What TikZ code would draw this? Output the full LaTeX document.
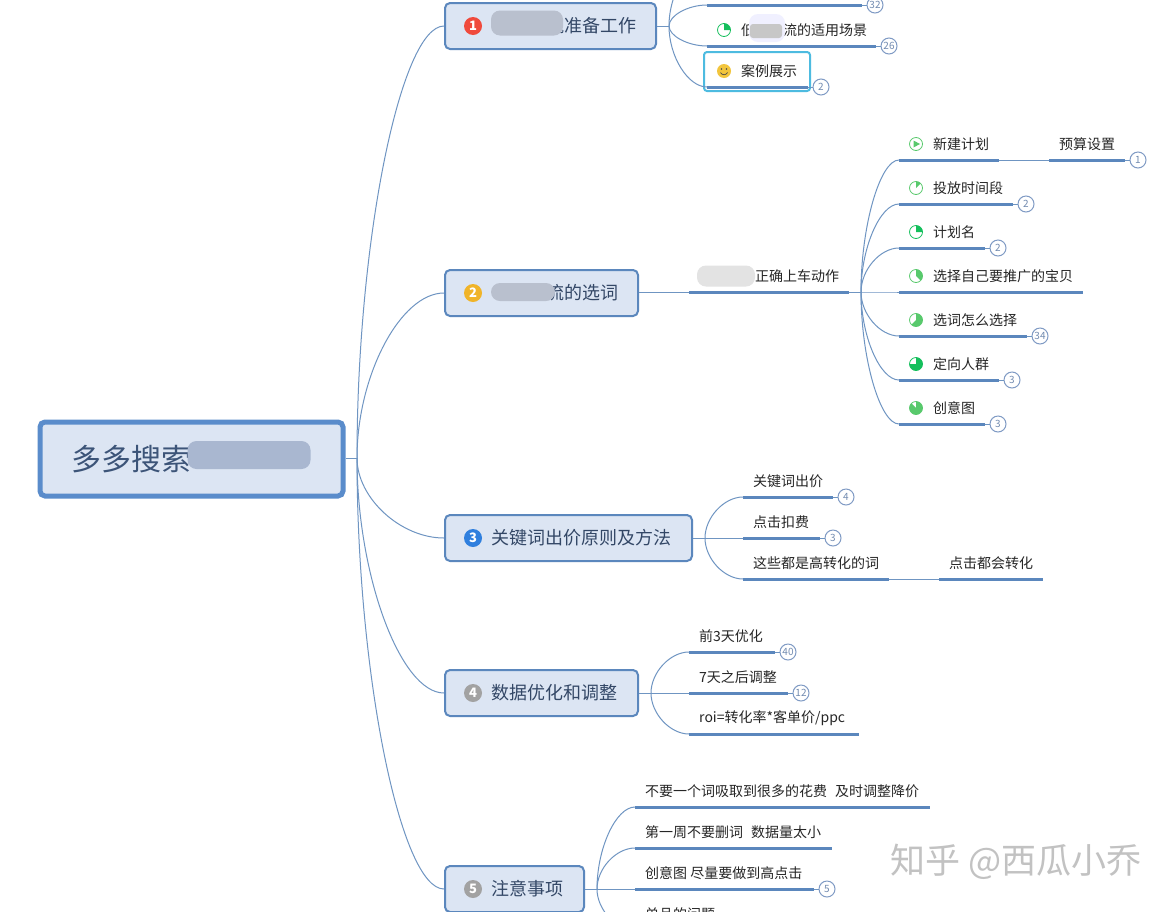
\documentclass[tikz,border=0pt]{standalone}
\usepackage{fontspec}
\setmainfont{Noto Sans CJK SC}
\usetikzlibrary{calc, positioning}
\definecolor{lineBlue}{HTML}{5B87BD}
\definecolor{rootBlue}{HTML}{5A8CCB}
\definecolor{thinBlue}{HTML}{6F95C2}
\definecolor{boxFill}{HTML}{DCE5F3}
\definecolor{inkBlue}{HTML}{3C5478}
\definecolor{badgeLine}{HTML}{7F9AC4}
\definecolor{pieGreen}{HTML}{14BF5C}
\definecolor{pieLight}{HTML}{58C96C}
\definecolor{iconRed}{HTML}{F04A3C}
\definecolor{iconYellow}{HTML}{F0B429}
\definecolor{iconBlue}{HTML}{2F7FDE}
\definecolor{iconGrey}{HTML}{A2A2A2}
\definecolor{smileYellow}{HTML}{F2C53D}
\definecolor{pickCyan}{HTML}{4DBBE0}
\definecolor{blurBlue}{HTML}{A9B7D0}
\definecolor{blurGrey}{HTML}{B9C0CE}
\tikzset{
    rootBox/.style={draw=rootBlue, line width=5pt, fill=boxFill, rounded corners=5pt, minimum width=303pt, minimum height=74pt, inner sep=0pt, font=\fontsize{30}{30}\selectfont, text=inkBlue},
    topicBox/.style={draw=lineBlue, line width=2pt, fill=boxFill, rounded corners=5pt, minimum height=46pt, inner sep=0pt},
    topicIcon/.style={circle, minimum size=18pt, inner sep=0pt, text=white, font=\fontsize{13}{13}\selectfont\bfseries},
    topicText/.style={anchor=west, inner sep=0pt, text=inkBlue!85!black, font=\fontsize{18}{18}\selectfont},
    leafText/.style={anchor=west, inner sep=0pt, text=black!85, font=\fontsize{14}{14}\selectfont},
    leafLine/.style={draw=lineBlue, line width=3pt},
    branchLine/.style={draw=thinBlue, line width=1pt},
    countBadge/.style={circle, draw=badgeLine, fill=white, line width=1pt, minimum size=16pt, inner sep=0pt, text=badgeLine!90!black, font=\fontsize{10}{10}\selectfont},
    blurPatch/.style={rounded corners=9pt, inner sep=0pt},
    pickBox/.style={draw=pickCyan, line width=2pt, rounded corners=3pt, fill=white, inner sep=0pt},
}
\newcommand{\drawTopic}[7]{
    \node[topicBox, minimum width={(#3-#2)*1pt}] (#1) at ({(#2+#3)/2},#4) {};
    \node[topicIcon, fill=#5] (#1i) at (473,#4) {#6};
    \node[topicText] (#1t) at (491,#4) {#7};
}
\newcommand{\drawLeaf}[6]{
    \coordinate (#1a) at (#2,#4);
    \coordinate (#1b) at (#3,#4);
    \node[leafText] (#1) at (#5,#4-16) {#6};
    \draw[leafLine] (#1a) -- (#1b);
}
\newcommand{\drawBranch}[2]{
    \draw[branchLine] (#1) .. controls ($(#1)!0.5!(#1 |- #2)$) and ($(#2)!0.5!(#1 |- #2)$) .. (#2);
}
\newcommand{\drawCount}[2]{
    \node[countBadge] (#1c) at ($(#1b)+(13,0)$) {#2};
    \draw[branchLine] (#1b) -- (#1c);
}
\newcommand{\drawPie}[4]{
    \coordinate (#1) at (916,#2);
    \draw[#4, line width=0.8pt] (#1) circle (6.5);
    \fill[#4] (#1) -- ++(-90:6.5) arc (-90:{-90+360*#3}:6.5) -- cycle;
}

\begin{document}
\begin{tikzpicture}[x=1pt, y=-1pt]

    \clip (0,0) rectangle (1172,911);
    \fill[white] (0,0) rectangle (1172,911);

    % root and forks
    \node[rootBox, align=left] (root) at (191.5,459) {多多搜索\hspace{120pt}};
    \coordinate (f0) at (357,458);
    \coordinate (f1) at (669,26);
    \coordinate (f2) at (861,292);
    \coordinate (f3) at (705,538);
    \coordinate (f4) at (651,693);
    \coordinate (f5) at (597,889);

    \drawTopic{t1}{445}{656}{26}{iconRed}{1}{\hspace{55pt}流准备工作}
    \drawTopic{t2}{445}{638}{293}{iconYellow}{2}{\hspace{55pt}流的选词}
    \drawTopic{t3}{445}{692}{538}{iconBlue}{3}{关键词出价原则及方法}
    \drawTopic{t4}{445}{638}{693}{iconGrey}{4}{数据优化和调整}
    \drawTopic{t5}{445}{584}{889}{iconGrey}{5}{注意事项}

    \draw[branchLine] (root.east |- f0) -- (f0);
    \drawBranch{f0}{t1.west}
    \drawBranch{f0}{t2.west}
    \drawBranch{f0}{t3.west}
    \drawBranch{f0}{t4.west}
    \drawBranch{f0}{t5.west}

    % first group
    \draw[branchLine] (t1.east) -- (f1);
    \coordinate (topEnd) at (712,-42);
    \drawBranch{f1}{topEnd}
    \node[pickBox, minimum width=106pt, minimum height=39pt] (pick) at (757,71.5) {};
    \drawLeaf{a1}{707}{862}{5}{741}{}
    \drawLeaf{a2}{707}{876}{46}{741}{低\hspace{28pt}流的适用场景}
    \drawLeaf{a3}{707}{808}{87}{741}{案例展示}
    \drawCount{a1}{32}
    \drawCount{a2}{26}
    \drawCount{a3}{2}
    \drawBranch{f1}{a1a}
    \drawBranch{f1}{a2a}
    \drawBranch{f1}{a3a}
    \draw[pieGreen, line width=0.8pt] (724,30) circle (6.5);
    \fill[pieGreen] (724,30) -- ++(-90:6.5) arc (-90:0:6.5) -- cycle;
    \fill[smileYellow] (724,71) circle (7);
    \fill[black!70] (721.5,69) circle (0.9) (726.5,69) circle (0.9);
    \draw[black!70, line width=0.7pt] (720.5,72.5) .. controls (722,75.5) and (726,75.5) .. (727.5,72.5);

    % second group
    \coordinate (b0a) at (689,292);
    \coordinate (b0b) at (849,292);
    \node[leafText] (b0) at (755,276) {正确上车动作};
    \draw[branchLine] (t2.east |- b0a) -- (b0a);
    \draw[leafLine] (b0a) -- (b0b);
    \draw[branchLine] (b0b) -- (f2);
    \drawLeaf{b1}{899}{999}{160}{933}{新建计划}
    \drawLeaf{b8}{1049}{1125}{160}{1059}{预算设置}
    \drawLeaf{b2}{899}{1013}{204}{933}{投放时间段}
    \drawLeaf{b3}{899}{985}{248}{933}{计划名}
    \drawLeaf{b4}{899}{1083}{292}{933}{选择自己要推广的宝贝}
    \drawLeaf{b5}{899}{1027}{336}{933}{选词怎么选择}
    \drawLeaf{b6}{899}{999}{380}{933}{定向人群}
    \drawLeaf{b7}{899}{985}{424}{933}{创意图}
    \draw[branchLine] (b1b) -- (b8a);
    \drawCount{b8}{1}
    \drawCount{b2}{2}
    \drawCount{b3}{2}
    \drawCount{b5}{34}
    \drawCount{b6}{3}
    \drawCount{b7}{3}
    \foreach \leaf in {b1a,b2a,b3a,b4a,b5a,b6a,b7a}
        \drawBranch{f2}{\leaf};
    \draw[pieLight, line width=0.8pt] (916,144) circle (6.5);
    \fill[pieLight] (913.5,140.5) -- (920,144) -- (913.5,147.5) -- cycle;
    \drawPie{p2}{188}{0.125}{pieLight}
    \drawPie{p3}{232}{0.25}{pieGreen}
    \drawPie{p4}{276}{0.375}{pieLight}
    \drawPie{p5}{320}{0.625}{pieLight}
    \drawPie{p6}{364}{0.75}{pieGreen}
    \drawPie{p7}{408}{0.875}{pieLight}

    % third group
    \draw[branchLine] (t3.east) -- (f3);
    \drawLeaf{c1}{743}{833}{497}{753}{关键词出价}
    \drawLeaf{c2}{743}{820}{538}{753}{点击扣费}
    \drawLeaf{c3}{743}{889}{579}{753}{这些都是高转化的词}
    \drawLeaf{c4}{939}{1043}{579}{949}{点击都会转化}
    \draw[branchLine] (c3b) -- (c4a);
    \drawCount{c1}{4}
    \drawCount{c2}{3}
    \foreach \leaf in {c1a,c2a,c3a}
        \drawBranch{f3}{\leaf};

    % fourth group
    \draw[branchLine] (t4.east) -- (f4);
    \drawLeaf{d1}{689}{775}{652}{699}{前3天优化}
    \drawLeaf{d2}{689}{788}{693}{699}{7天之后调整}
    \drawLeaf{d3}{689}{859}{734}{699}{roi=转化率*客单价/ppc}
    \drawCount{d1}{40}
    \drawCount{d2}{12}
    \foreach \leaf in {d1a,d2a,d3a}
        \drawBranch{f4}{\leaf};

    % fifth group
    \draw[branchLine] (t5.east) -- (f5);
    \drawLeaf{e1}{635}{930}{807}{645}{不要一个词吸取到很多的花费\hspace{8pt}及时调整降价}
    \drawLeaf{e2}{635}{832}{848}{645}{第一周不要删词\hspace{8pt}数据量太小}
    \drawLeaf{e3}{635}{814}{889}{645}{创意图 尽量要做到高点击}
    \drawLeaf{e4}{635}{720}{930}{645}{单品的问题}
    \drawCount{e3}{5}
    \foreach \leaf in {e1a,e2a,e3a,e4a}
        \drawBranch{f5}{\leaf};

    % blurred parts
    \node[blurPatch, fill=blurBlue, minimum width=123pt, minimum height=28pt] (blurRoot) at (249,455) {};
    \node[blurPatch, fill=blurGrey, minimum width=72pt, minimum height=25pt] (blurOne) at (527,23) {};
    \node[blurPatch, fill=blurGrey, minimum width=64pt, minimum height=18pt] (blurTwo) at (523,292) {};
    \node[blurPatch, fill=black!11, minimum width=58pt, minimum height=21pt] (blurLeaf) at (726,276) {};
    \node[blurPatch, fill=blue!6, minimum width=36pt, minimum height=28pt] (blurHalo) at (767,28) {};
    \node[blurPatch, rounded corners=3pt, fill=black!22, minimum width=32pt, minimum height=14pt] (blurScene) at (766,31) {};

    % watermark
    \node[inner sep=0pt, anchor=west, text=black!24, font=\fontsize{35}{35}\selectfont] (mark) at (890,862) {知乎 @西瓜小乔};

\end{tikzpicture}
\end{document}
